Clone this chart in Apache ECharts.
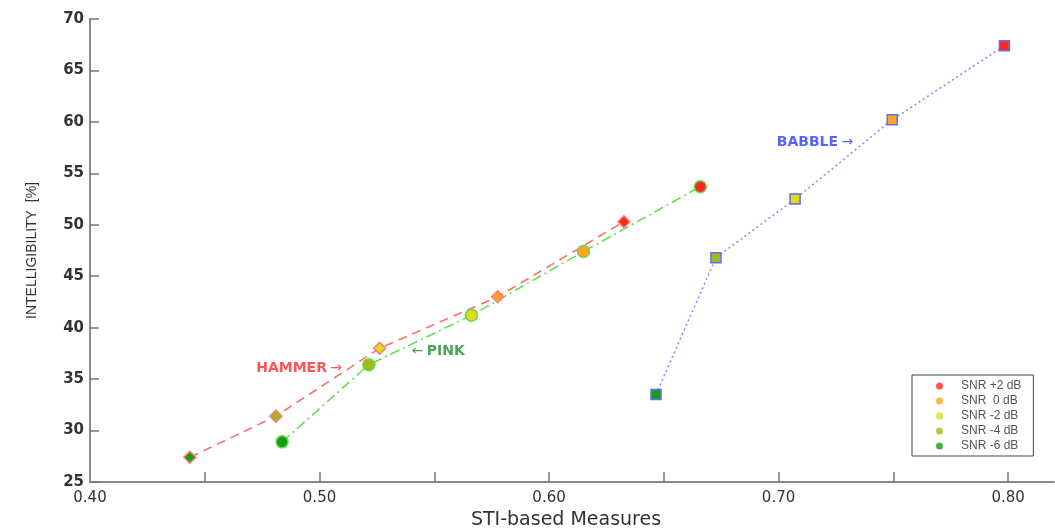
<!DOCTYPE html>
<html>
<head>
<meta charset="utf-8">
<script src="https://cdn.jsdelivr.net/npm/echarts@6/dist/echarts.min.js"></script>
<style>
html,body{margin:0;padding:0;background:#fff;}
#chart{width:1055px;height:528px;}
</style>
</head>
<body>
<div id="chart"></div>
<script>
// ---- data ----
var snrLevels = ['SNR -6 dB', 'SNR -4 dB', 'SNR -2 dB', 'SNR  0 dB', 'SNR +2 dB'];
var snrColors = ['#14a014', '#9cbc1c', '#dcdc1c', '#ffa424', '#ff2a1a'];

var hammerX = [0.4435, 0.4810, 0.5262, 0.5776, 0.6326];
var hammerY = [27.4, 31.4, 38.0, 43.0, 50.3];

var pinkX = [0.4837, 0.5215, 0.5662, 0.6150, 0.6659];
var pinkY = [28.9, 36.4, 41.2, 47.4, 53.7];

var babbleX = [0.6466, 0.6727, 0.7072, 0.7495, 0.7984];
var babbleY = [33.5, 46.8, 52.5, 60.2, 67.4];

var xTickValues = [0.45, 0.50, 0.55, 0.60, 0.65, 0.70, 0.75, 0.80];
var xLabelValues = [0.40, 0.50, 0.60, 0.70, 0.80];
var yTickLabels = ['25', '30', '35', '40', '45', '50', '55', '60', '65', '70'];

var annotationWord = ['HAMMER', 'PINK', 'BABBLE'];
var annotationAt = [[0.5098, 36.0], [0.5402, 37.7], [0.7325, 58.05]];

// ---- build ----
function pts(xs, ys) {
  return xs.map(function (x, i) {
    return { value: [x, ys[i]], itemStyle: { color: snrColors[i] } };
  });
}
var FONT = "'Liberation Sans', Arial, sans-serif";
var DV = "'DejaVu Sans', sans-serif";

var chart = echarts.init(document.getElementById('chart'), null, { renderer: 'canvas' });

var annColors = ['#ff2a2a', '#1c8f26', '#2c3cff'];
var annPos = ['left', 'right', 'left'];
var annFormat = [
  '{w|' + annotationWord[0] + '} {a|\u2192}',
  '{a|\u2190} {w|' + annotationWord[1] + '}',
  '{w|' + annotationWord[2] + '} {a|\u2192}'
];

var series = [
  {
    name: 'HAMMER', type: 'line', data: pts(hammerX, hammerY),
    symbol: 'diamond', symbolSize: 12, showAllSymbol: true, z: 3,
    lineStyle: { color: '#ff6f6f', width: 1.6, type: [9, 6] },
    itemStyle: { borderColor: '#ff7a7a', borderWidth: 1.5 }
  },
  {
    name: 'PINK', type: 'line', data: pts(pinkX, pinkY),
    symbol: 'circle', symbolSize: 12, showAllSymbol: true, z: 3,
    lineStyle: { color: '#66e050', width: 1.6, type: [10, 4, 2, 4] },
    itemStyle: { borderColor: '#6ad84a', borderWidth: 1.5 }
  },
  {
    name: 'BABBLE', type: 'line', data: pts(babbleX, babbleY),
    symbol: 'rect', symbolSize: 10, showAllSymbol: true, z: 3,
    lineStyle: { color: '#8c8cff', width: 1.6, type: [2, 3] },
    itemStyle: { borderColor: '#6a6af0', borderWidth: 1.5 }
  },
  {
    name: 'annotations', type: 'scatter', symbolSize: 0, z: 4, silent: true,
    data: annotationAt.map(function (p, i) {
      return {
        value: p,
        label: {
          show: true, position: annPos[i], distance: 0,
          formatter: annFormat[i], color: annColors[i],
          rich: {
            w: { fontFamily: DV, fontSize: 14, fontWeight: 'bold', color: annColors[i] },
            a: { fontFamily: DV, fontSize: 14, fontWeight: 'normal', color: annColors[i] }
          }
        }
      };
    })
  }
];
snrLevels.slice().reverse().forEach(function (name) {
  var idx = snrLevels.indexOf(name);
  series.push({ name: name, type: 'scatter', data: [], itemStyle: { color: snrColors[idx] } });
});

chart.setOption({
  animation: false,
  backgroundColor: '#ffffff',
  grid: { left: 90, right: 1, top: 19, bottom: 46, containLabel: false, outerBoundsMode: 'none' },
  legend: {
    data: snrLevels.slice().reverse(),
    orient: 'vertical',
    left: 912, top: 375,
    icon: 'circle',
    itemWidth: 33, itemHeight: 7, itemGap: 3,
    padding: [5, 12, 4, 24],
    borderColor: '#444', borderWidth: 1,
    selectedMode: false,
    textStyle: { fontFamily: FONT, fontSize: 12, color: '#555', lineHeight: 12 }
  },
  xAxis: {
    type: 'value', min: 0.4, max: 0.82, interval: 0.05,
    name: 'STI-based Measures', nameLocation: 'middle', nameGap: 28,
    nameTextStyle: { fontFamily: DV, fontSize: 19, color: '#333', padding: [0, 12, 0, 0] },
    axisLine: { show: true, lineStyle: { color: '#888', width: 2 } },
    axisTick: { show: true, inside: true, length: 10, customValues: xTickValues,
      lineStyle: { color: '#777', width: 1.5 } },
    axisLabel: { fontFamily: DV, fontSize: 15, color: '#333', margin: 9,
      customValues: xLabelValues,
      formatter: function (v) { return v.toFixed(2); } },
    splitLine: { show: false }
  },
  yAxis: {
    type: 'value', min: 25, max: 70, interval: 5,
    name: 'INTELLIGIBILITY  [%]', nameLocation: 'middle', nameGap: 51,
    nameTextStyle: { fontFamily: FONT, fontSize: 14, color: '#333' },
    axisLine: { show: true, lineStyle: { color: '#888', width: 2 } },
    axisTick: { show: true, inside: true, length: 9, lineStyle: { color: '#777', width: 1.5 } },
    axisLabel: { fontFamily: DV, fontSize: 15, fontWeight: 'bold', color: '#333', margin: 6,
      formatter: function (v) { return yTickLabels[Math.round((v - 25) / 5)]; } },
    splitLine: { show: false }
  },
  series: series
});
</script>
</body>
</html>
